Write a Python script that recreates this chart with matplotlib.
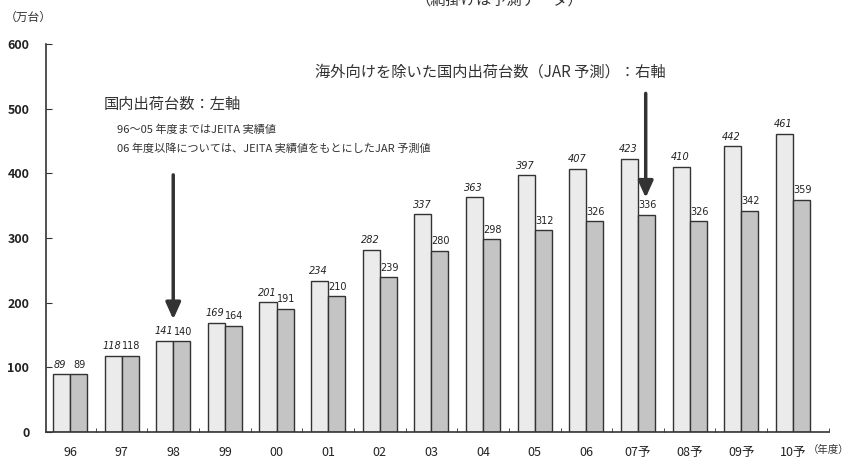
import numpy as np
import matplotlib.pyplot as plt

plt.rcParams['font.family'] = ['Noto Sans CJK JP', 'DejaVu Sans']

years = ['96', '97', '98', '99', '00', '01', '02', '03', '04', '05', '06',
         '07予', '08予', '09予', '10予']
domestic = [89, 118, 141, 169, 201, 234, 282, 337, 363, 397, 407, 423, 410, 442, 461]
excl_export = [89, 118, 140, 164, 191, 210, 239, 280, 298, 312, 326, 336, 326, 342, 359]

fig = plt.figure(figsize=(8.48, 4.59), dpi=100)
ax = fig.add_axes([0.0542, 0.0588, 0.9234, 0.8452])

x = np.arange(len(years))
w = 0.33
ax.bar(x - w / 2, domestic, w, color='#ebebeb', edgecolor='#333333', linewidth=1.0)
ax.bar(x + w / 2, excl_export, w, color='#c4c4c4', edgecolor='#333333', linewidth=1.0)

for xi, v in zip(x, domestic):
    ax.text(xi - w / 2 - 0.02, v + 7, str(v), ha='center', va='bottom', fontsize=7,
            style='italic', color='#222222', family='DejaVu Sans')
for xi, v in zip(x, excl_export):
    ax.text(xi + w / 2 + 0.02, v + 7, str(v), ha='center', va='bottom', fontsize=7,
            color='#222222', family='DejaVu Sans')

ax.set_xlim(-0.465, 14.7)
ax.set_ylim(0, 600)
ax.set_yticks(range(0, 601, 100))
ax.set_xticks(x)
ax.set_xticklabels(years, fontsize=9, color='#222222')
ax.set_xticks(np.append(x[:-1] + 0.5, 14.7), minor=True)
ax.tick_params(axis='x', which='major', length=0, pad=10)
ax.tick_params(axis='x', which='minor', direction='in', length=3, color='#333333')
ax.tick_params(axis='y', direction='in', length=4, pad=12, labelsize=9,
               labelcolor='#222222', color='#333333')
for lab in ax.get_yticklabels():
    lab.set_fontweight('bold')
for s in ['top', 'right']:
    ax.spines[s].set_visible(False)
for s in ['left', 'bottom']:
    ax.spines[s].set_color('#333333')
    ax.spines[s].set_linewidth(1.2)

# annotations
arrow = dict(arrowstyle='-|>,head_width=0.45,head_length=1.0', color='#333333', lw=2.5)
ax.annotate('', xy=(2.0, 170), xytext=(2.0, 402), arrowprops=arrow)
ax.annotate('', xy=(11.15, 358), xytext=(11.15, 528), arrowprops=arrow)

fig.text(0.122, 0.773, '国内出荷台数：左軸', fontsize=11, color='#333333', va='center')
fig.text(0.138, 0.718, '96～05 年度まではJEITA 実績値', fontsize=8, color='#333333', va='center')
fig.text(0.138, 0.675, '06 年度以降については、JEITA 実績値をもとにしたJAR 予測値', fontsize=8,
         color='#333333', va='center')
fig.text(0.371, 0.843, '海外向けを除いた国内出荷台数（JAR 予測）：右軸', fontsize=11,
         color='#333333', va='center')

fig.text(0.006, 0.963, '（万台）', fontsize=8.5, color='#333333', va='center')
fig.text(0.952, 0.02, '（年度）', fontsize=7.5, color='#333333', va='center')
fig.text(0.49, 1.0, '（網掛けは予測データ）', fontsize=11, color='#333333', va='center')

fig.savefig('out.png', dpi=100)
